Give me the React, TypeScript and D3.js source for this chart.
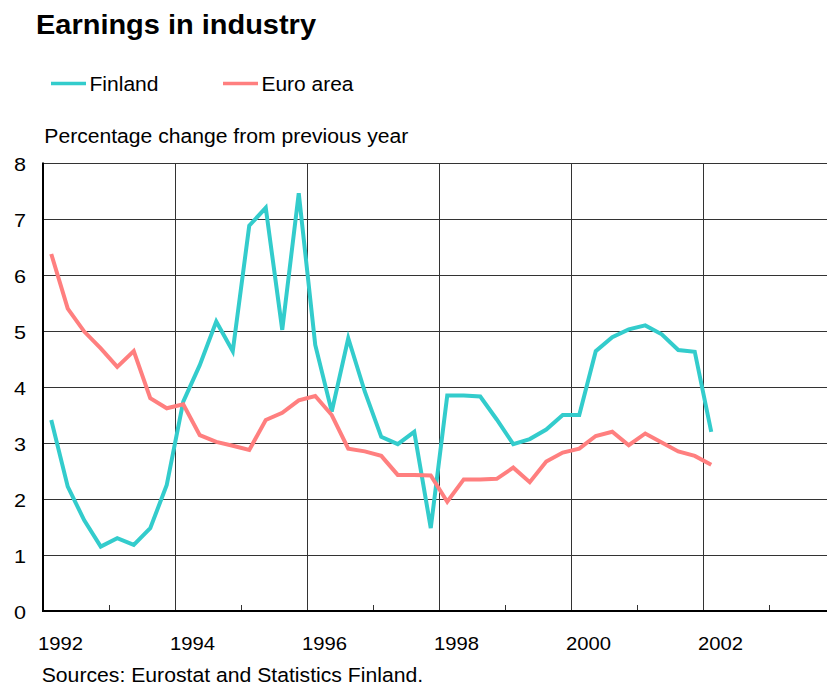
import React from "react";
import * as d3 from "d3";

const startYear = 1992;
const finland = [
  3.41, 2.22, 1.62, 1.15, 1.3, 1.18, 1.48, 2.25,
  3.74, 4.39, 5.17, 4.64, 6.88, 7.2, 5.02, 7.46,
  4.75, 3.56, 4.87, 3.92, 3.11, 2.98, 3.2, 1.48,
  3.85, 3.85, 3.83, 3.42, 2.98, 3.07, 3.24, 3.5,
  3.5, 4.64, 4.89, 5.03, 5.1, 4.94, 4.66, 4.63,
  3.2,
];
const euroArea = [
  6.375, 5.4, 4.99, 4.69, 4.36, 4.64, 3.8, 3.62,
  3.69, 3.14, 3.02, 2.95, 2.875, 3.41, 3.54, 3.76,
  3.84, 3.5, 2.9, 2.85, 2.77, 2.43, 2.43, 2.42,
  1.95, 2.35, 2.35, 2.36, 2.56, 2.3, 2.67, 2.83,
  2.9, 3.125, 3.2, 2.96, 3.17, 3.01, 2.85, 2.77,
  2.61,
];
const yTicks = [0, 1, 2, 3, 4, 5, 6, 7, 8];
const majorYears = [1992, 1994, 1996, 1998, 2000, 2002];
const minorYears = [1993, 1995, 1997, 1999, 2001, 2003];
const seriesNames = ["Finland", "Euro area"];
const colors = ["#33CCCC", "#FF7F7F"];

const W = 827;
const H = 686;
const FONT = "'Liberation Sans', Arial, sans-serif";

function T(props: {
  x: number;
  y: number;
  size: number;
  len?: number;
  bold?: boolean;
  anchor?: string;
  children: React.ReactNode;
}) {
  return (
    <text
      x={props.x}
      y={props.y}
      fontSize={props.size}
      fontWeight={props.bold ? "bold" : "normal"}
      textAnchor={props.anchor || "start"}
      textLength={props.len}
      lengthAdjust={props.len ? "spacingAndGlyphs" : undefined}
      fill="#000"
    >
      {props.children}
    </text>
  );
}

export default function App() {
  const x = d3.scaleLinear().domain([1992, 2004]).range([43, 835]);
  const y = d3.scaleLinear().domain([0, 8]).range([611, 163]);
  const line = d3
    .line<number>()
    .x((_, i) => x(startYear + (i + 0.5) / 4))
    .y((d) => y(d));
  const series = [finland, euroArea];
  const legendW = [69, 92];
  return (
    <svg
      width={W}
      height={H}
      style={{ position: "absolute", left: 0, top: 0, background: "#fff" }}
      fontFamily={FONT}
    >
      <rect x={0} y={0} width={W} height={H} fill="#fff" />
      <T x={36} y={33.5} size={27} bold len={280}>
        Earnings in industry
      </T>
      {seriesNames.map((n, i) => {
        const lx = i === 0 ? 51 : 223;
        return (
          <g key={n}>
            <line x1={lx} x2={lx + 35} y1={83.5} y2={83.5} stroke={colors[i]} strokeWidth={3.5} />
            <T x={lx + 38.5} y={90.7} size={19.3} len={legendW[i]}>
              {n}
            </T>
          </g>
        );
      })}
      <T x={44.3} y={142.7} size={19.5} len={364}>
        Percentage change from previous year
      </T>
      {yTicks.map((t) => (
        <g key={t}>
          {t > 0 && (
            <line x1={x(1992)} x2={W} y1={Math.round(y(t)) + 0.5} y2={Math.round(y(t)) + 0.5} stroke="#333" strokeWidth={1} />
          )}
          <T x={26} y={y(t) + 8} size={18.6} anchor="end" len={12}>
            {t}
          </T>
        </g>
      ))}
      {majorYears.slice(1).map((yr) => (
        <line key={yr} x1={Math.round(x(yr)) + 0.5} x2={Math.round(x(yr)) + 0.5} y1={y(8)} y2={y(0)} stroke="#333" strokeWidth={1} />
      ))}
      {minorYears.map((yr) => (
        <line key={yr} x1={Math.round(x(yr)) + 0.5} x2={Math.round(x(yr)) + 0.5} y1={y(0) - 6} y2={y(0)} stroke="#333" strokeWidth={1} />
      ))}
      <line x1={x(1992)} x2={x(1992)} y1={y(8) - 0.5} y2={y(0) + 1} stroke="#000" strokeWidth={2} />
      <line x1={x(1992) - 1} x2={W} y1={y(0)} y2={y(0)} stroke="#000" strokeWidth={2} />
      {series.map((s, i) => (
        <path key={i} d={line(s) || ""} fill="none" stroke={colors[i]} strokeWidth={4} strokeLinejoin="miter" />
      ))}
      {majorYears.map((yr) => (
        <T key={yr} x={x(yr) - 5} y={650} size={18.6} len={45}>
          {yr}
        </T>
      ))}
      <T x={41.7} y={681.7} size={19.3} len={381.5}>
        Sources: Eurostat and Statistics Finland.
      </T>
    </svg>
  );
}
